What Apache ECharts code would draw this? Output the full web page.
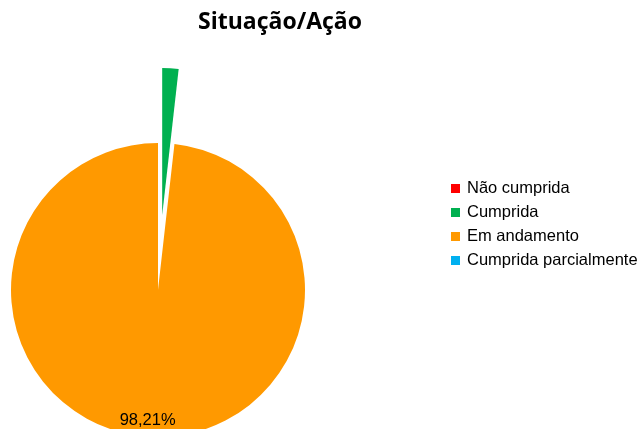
<!DOCTYPE html>
<html>
<head>
<meta charset="utf-8">
<script src="https://cdn.jsdelivr.net/npm/echarts@6/dist/echarts.min.js"></script>
<style>
  html, body { margin: 0; padding: 0; background: #fff; }
  #main { width: 641px; height: 429px; }
</style>
</head>
<body>
<div id="main"></div>
<script>
  // dados do gráfico
  var categorias = ['Não cumprida', 'Cumprida', 'Em andamento', 'Cumprida parcialmente'];
  var valores = [0, 1, 55, 0];
  var cores = ['#ff0000', '#00b050', '#ff9900', '#00b0f0'];
  var rotulosVisiveis = [false, false, true, false];

  var myChart = echarts.init(document.getElementById('main'));

  function fmtPct(p) {
    return p.percent.toFixed(2).replace('.', ',') + '%';
  }

  let dadosPizza = categorias.map(function (nome, i) {
    return {
      name: nome,
      value: valores[i],
      selected: nome === 'Cumprida',
      itemStyle: { color: cores[i] }
    };
  });

  // série só para posicionar o rótulo perto da borda
  let dadosRotulo = categorias.map(function (nome, i) {
    return {
      name: nome,
      value: valores[i],
      itemStyle: { color: 'rgba(0,0,0,0)' },
      label: { show: rotulosVisiveis[i] }
    };
  });

  let option = {
    animation: false,
    title: {
      text: 'Situação/Ação',
      left: 275,
      top: 6,
      textAlign: 'center',
      textStyle: {
        fontFamily: 'Open Sans',
        fontWeight: 'bold',
        fontSize: 23,
        color: '#000'
      }
    },
    legend: {
      orient: 'vertical',
      left: 446,
      top: 175,
      icon: 'rect',
      itemWidth: 9,
      itemHeight: 9,
      itemGap: 7,
      data: categorias,
      textStyle: {
        fontFamily: 'Liberation Sans',
        fontSize: 16.5,
        lineHeight: 17,
        color: '#000',
        padding: [0, 0, 0, 2]
      }
    },
    series: [
      {
        name: 'Situação',
        type: 'pie',
        center: [158, 290],
        radius: [0, 147],
        startAngle: 90,
        clockwise: true,
        selectedMode: 'single',
        selectedOffset: 75,
        avoidLabelOverlap: false,
        itemStyle: { borderWidth: 0 },
        label: { show: false },
        labelLine: { show: false },
        emphasis: { scale: false },
        data: dadosPizza
      },
      {
        name: 'rotulos',
        type: 'pie',
        silent: true,
        center: [155, 290],
        radius: [0, 256],
        startAngle: 90,
        clockwise: true,
        avoidLabelOverlap: false,
        itemStyle: { borderWidth: 0 },
        label: {
          position: 'inside',
          formatter: fmtPct,
          fontFamily: 'Liberation Sans',
          fontSize: 16.5,
          color: '#000'
        },
        labelLine: { show: false },
        data: dadosRotulo
      }
    ]
  };

  myChart.setOption(option);
</script>
</body>
</html>
